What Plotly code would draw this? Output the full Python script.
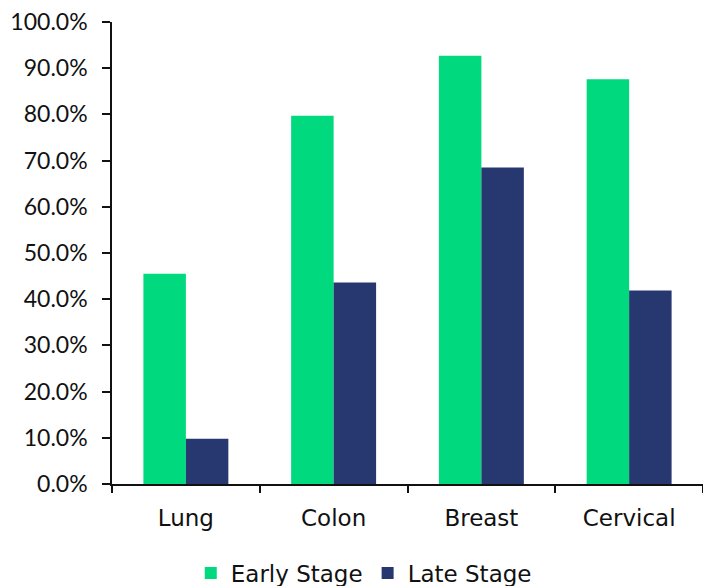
import plotly.graph_objects as go

# Survival share by cancer type and stage at diagnosis
categories = ["Lung", "Colon", "Breast", "Cervical"]
early_stage = [45.5, 79.7, 92.7, 87.6]
late_stage = [9.8, 43.6, 68.5, 41.9]
y_ticks = [0, 10, 20, 30, 40, 50, 60, 70, 80, 90, 100]

TEXT_FONT = "'DejaVu Sans', sans-serif"
NUM_FONT = "Lato, 'DejaVu Sans', sans-serif"

fig = go.Figure()
fig.add_bar(x=categories, y=early_stage, name="Early Stage",
            marker=dict(color="#00D97E", line=dict(width=0)))
fig.add_bar(x=categories, y=late_stage, name="Late Stage",
            marker=dict(color="#273870", line=dict(width=0)))

fig.update_layout(
    width=703, height=586,
    margin=dict(l=112, r=0, t=22, b=102, autoexpand=False),
    paper_bgcolor="white", plot_bgcolor="white",
    barmode="group", bargap=0.425, bargroupgap=0,
    font=dict(family=TEXT_FONT, size=23, color="#111111"),
    showlegend=True,
    legend=dict(orientation="h", x=0.426, xanchor="center", y=-0.193, yanchor="middle",
                font=dict(family=TEXT_FONT, size=23), traceorder="normal"),
)
fig.update_xaxes(
    range=[-0.5, 3.5], showline=True, linecolor="#111111", linewidth=1.6,
    ticks="outside", tickson="boundaries", ticklen=7, tickcolor="#111111",
    tickwidth=1.6, showgrid=False, ticklabelstandoff=13, automargin=False,
    tickfont=dict(family=TEXT_FONT, size=23),
)
fig.update_yaxes(
    range=[0, 100], tickvals=y_ticks,
    ticktext=[f"{v:.1f}%" for v in y_ticks],
    showline=True, linecolor="#111111", linewidth=1.6,
    ticks="outside", ticklen=8, tickcolor="#111111", tickwidth=1.6,
    showgrid=False, zeroline=False, ticklabelstandoff=10, automargin=False,
    tickfont=dict(family=NUM_FONT, size=23),
)

fig.write_html("out.html")
